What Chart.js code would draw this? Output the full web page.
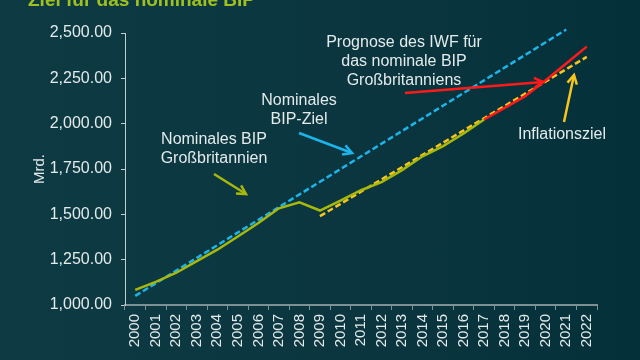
<!DOCTYPE html>
<html lang="de">
<head>
<meta charset="utf-8">
<title>Ziel für das nominale BIP</title>
<script src="https://cdn.jsdelivr.net/npm/chart.js@4.4.1/dist/chart.umd.min.js"></script>
<style>
  html, body { margin: 0; padding: 0; }
  body {
    width: 640px; height: 360px; overflow: hidden;
    background: linear-gradient(90deg, #0d3a43 0%, #0b3640 55%, #04303a 100%);
  }
  canvas { display: block; }
</style>
</head>
<body>
<canvas id="bipChart" width="640" height="360"></canvas>
<script>
// Jahre (x-Achse)
const years = ["2000", "2001", "2002", "2003", "2004", "2005", "2006", "2007", "2008", "2009", "2010",
  "2011", "2012", "2013", "2014", "2015", "2016", "2017", "2018", "2019", "2020", "2021", "2022"];

// Nominales BIP Großbritannien (Mrd.), bis 2017
const bipActual = [1083, 1128, 1178, 1242, 1305, 1378, 1452, 1533, 1566, 1521, 1575, 1633,
  1678, 1744, 1820, 1876, 1946, 2023, null, null, null, null, null];

// Prognose des IWF, 2017-2022
const bipForecast = [null, null, null, null, null, null, null, null, null, null, null, null,
  null, null, null, null, null, 2023, 2087, 2152, 2240, 2332, 2425];

// Nominales BIP-Ziel: gerade Linie 2000 -> 2021
const bipTarget = [1050, null, null, null, null, null, null, null, null, null, null, null,
  null, null, null, null, null, null, null, null, null, 2519, null];

// Inflationsziel: gerade Linie 2009 -> 2022
const inflationTarget = [null, null, null, null, null, null, null, null, null, 1490, null, null,
  null, null, null, null, null, null, null, null, null, null, 2368];

// y-Achse
const yTicks = [1000, 1250, 1500, 1750, 2000, 2250, 2500];

const textColor = "#e3eaea";

// Beschriftungen mit Pfeilen (Pixel im 640x360 Bild)
const notes = [
  { lines: ["Nominales BIP", "Großbritannien"], x: 214, y: 140, arrow: [214, 174, 246, 194], color: "#a8b80c" },
  { lines: ["Nominales", "BIP-Ziel"], x: 299, y: 101, arrow: [299, 133, 352, 153], color: "#1db4ea" },
  { lines: ["Prognose des IWF für", "das nominale BIP", "Großbritanniens"], x: 404, y: 43, arrow: [405, 93, 543, 82], color: "#ff1a1a" },
  { lines: ["Inflationsziel"], x: 562, y: 135, arrow: [564, 122, 574, 75], color: "#f7c520" },
];

const drawArrow = (ctx, x1, y1, x2, y2, color) => {
  const ang = Math.atan2(y2 - y1, x2 - x1);
  const head = 10;
  ctx.strokeStyle = color;
  ctx.lineWidth = 2.5;
  ctx.lineCap = "butt";
  ctx.lineJoin = "miter";
  ctx.beginPath();
  ctx.moveTo(x1, y1);
  ctx.lineTo(x2, y2);
  ctx.stroke();
  ctx.beginPath();
  ctx.moveTo(x2 - head * Math.cos(ang - 0.5), y2 - head * Math.sin(ang - 0.5));
  ctx.lineTo(x2, y2);
  ctx.lineTo(x2 - head * Math.cos(ang + 0.5), y2 - head * Math.sin(ang + 0.5));
  ctx.stroke();
};

const notesPlugin = {
  id: "notes",
  afterDraw(chart) {
    const ctx = chart.ctx;
    ctx.save();
    // Titel (oben abgeschnitten wie im Original)
    ctx.font = 'bold 19px "Liberation Sans", Arial, sans-serif';
    ctx.fillStyle = "#a0c020";
    ctx.textAlign = "left";
    ctx.textBaseline = "alphabetic";
    ctx.fillText("Ziel für das nominale BIP", 28, 6);

    ctx.font = '16px "Liberation Sans", Arial, sans-serif';
    ctx.textAlign = "center";
    ctx.textBaseline = "middle";
    notes.forEach((n) => {
      ctx.fillStyle = textColor;
      n.lines.forEach((line, i) => ctx.fillText(line, n.x, n.y + i * 19));
      const [x1, y1, x2, y2] = n.arrow;
      drawArrow(ctx, x1, y1, x2, y2, n.color);
    });
    ctx.restore();
  },
};

Chart.defaults.font.family = '"Liberation Sans", Arial, sans-serif';
Chart.defaults.color = textColor;

new Chart(document.getElementById("bipChart").getContext("2d"), {
  type: "line",
  data: {
    labels: years,
    datasets: [
      {
        label: "Prognose des IWF",
        data: bipForecast,
        borderColor: "#ff1a1a",
        borderWidth: 2.5,
        pointRadius: 0,
        clip: false,
        order: 0,
      },
      {
        label: "Nominales BIP Großbritannien",
        data: bipActual,
        borderColor: "#a8b80c",
        borderWidth: 2.5,
        pointRadius: 0,
        clip: false,
        order: 1,
      },
      {
        label: "Inflationsziel",
        data: inflationTarget,
        borderColor: "#f7c520",
        borderWidth: 2.5,
        borderDash: [6, 3],
        pointRadius: 0,
        spanGaps: true,
        clip: false,
        order: 2,
      },
      {
        label: "Nominales BIP-Ziel",
        data: bipTarget,
        borderColor: "#1db4ea",
        borderWidth: 2.5,
        borderDash: [6, 3],
        pointRadius: 0,
        spanGaps: true,
        clip: false,
        order: 3,
      },
    ],
  },
  options: {
    responsive: false,
    animation: false,
    layout: { padding: { top: 33, right: 43, bottom: 0, left: 0 } },
    plugins: {
      legend: { display: false },
      tooltip: { enabled: false },
    },
    scales: {
      x: {
        offset: true,
        grid: { offset: true, drawOnChartArea: false, tickLength: 5, color: "#7d9194" },
        border: { color: "#7d9194", width: 2 },
        ticks: {
          minRotation: 90,
          maxRotation: 90,
          autoSkip: false,
          padding: 4,
          font: { size: 15 },
        },
        afterFit: (scale) => { scale.height = 55; },
      },
      y: {
        min: 1000,
        max: 2500,
        afterBuildTicks: (scale) => { scale.ticks = yTicks.map((v) => ({ value: v })); },
        grid: { drawOnChartArea: false, tickLength: 4, color: "#c5cdcd" },
        border: { color: "#c5cdcd", width: 1 },
        ticks: {
          padding: 9,
          font: { size: 16 },
          callback: (v) => v.toLocaleString("en-US", { minimumFractionDigits: 2, maximumFractionDigits: 2 }),
        },
        title: {
          display: true,
          text: "Mrd.",
          font: { size: 15 },
          padding: { top: 31, bottom: 0 },
        },
        afterFit: (scale) => { scale.width = 125; },
      },
    },
  },
  plugins: [notesPlugin],
});
</script>
</body>
</html>
